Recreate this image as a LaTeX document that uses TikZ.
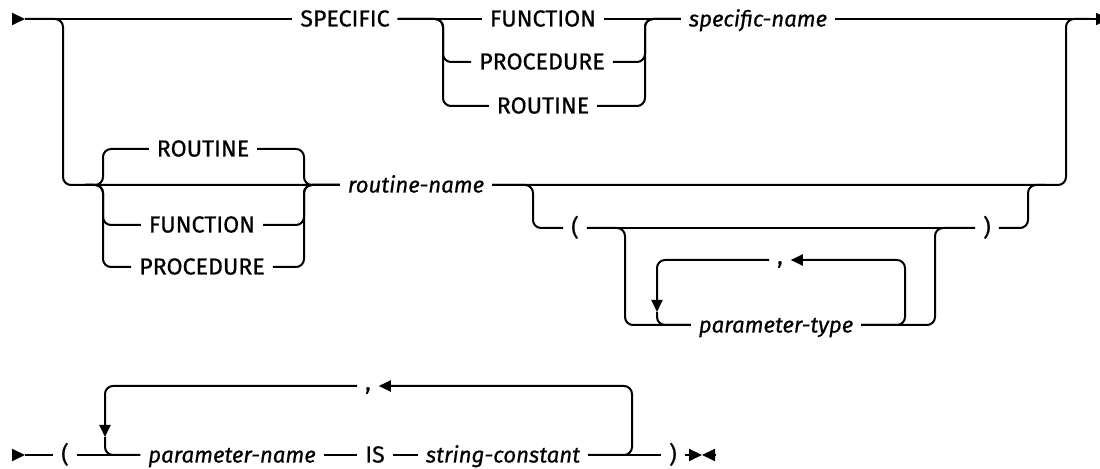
\documentclass[tikz,border=0pt]{standalone}
\usepackage{fontspec}
\setmainfont{Fira Sans}[FakeBold=0.6]
\usetikzlibrary{arrows.meta}
\newcommand\dgfont{\fontsize{11.6}{14}\selectfont}
\tikzset{
  >={Triangle[length=6pt,width=5.5pt]},
  stt/.style={-{Triangle[length=6.5pt,width=6pt]}},
  kw/.style={inner sep=0pt,outer sep=4pt,text height=7.5pt,text depth=0pt,font=\dgfont},
  vr/.style={kw,font=\fontsize{11.1}{14}\selectfont\itshape},
  cma/.style={kw,text height=4pt},
  rr/.style={rounded corners=4pt},
  every picture/.style={line width=1pt},
}

\begin{document}
\begin{tikzpicture}[x=0.5pt,y=-0.5pt]
\useasboundingbox (0,0) rectangle (1100,469);
% upper diagram
\coordinate (st1) at (12,19); \coordinate (st1t) at (25,19);
\coordinate (ja) at (63,19); \coordinate (jb) at (63,185);
\coordinate (g0) at (85,185); \coordinate (ga) at (103,185); \coordinate (gb) at (304,185);
\coordinate (ha) at (443,19); \coordinate (hb) at (645,19);
\coordinate (la) at (533,185); \coordinate (lb) at (1028,185); \coordinate (kc) at (1045,185);
\coordinate (ka) at (1066,185); \coordinate (kb) at (1066,19); \coordinate (kd) at (1090,19);
\coordinate (en1) at (1109,19);
\coordinate (gl) at (625,228); \coordinate (gr) at (935,228);
\coordinate (ll) at (657,312); \coordinate (lr) at (905,260);
\node[kw] (spec) at (345,19) {SPECIFIC};
\node[kw] (fn1) at (543,19) {FUNCTION};
\node[kw] (pr1) at (542,62) {PROCEDURE};
\node[kw] (rt1) at (543,106) {ROUTINE};
\node[vr] (sn) at (758,19) {specific-name};
\node[kw] (rt2) at (203,149) {ROUTINE};
\node[kw] (fn2) at (202,225) {FUNCTION};
\node[kw] (pr2) at (202,267) {PROCEDURE};
\node[vr] (rn) at (416,185) {routine-name};
\node[kw] (lp) at (575,228) {(};
\node[kw] (rp) at (987,228) {)};
\node[cma] (cm) at (780,260) {,};
\node[vr] (pt) at (776,325) {parameter-type};
\draw[stt] (st1) -- (st1t);
\draw (st1t) -- (spec) -- (fn1) -- (sn);
\draw[stt] (sn) -- (en1);
\draw[rr] (spec) -- (ha) |- (pr1); \draw[rr] (spec) -- (ha) |- (rt1);
\draw[rr] (pr1) -| (hb) -- (sn); \draw[rr] (rt1) -| (hb) -- (sn);
\draw[rr] (st1t) -- (ja) -- (jb) -- (rn);
\draw[rr] (g0) -- (ga) |- (rt2); \draw[rr] (g0) -- (ga) |- (fn2); \draw[rr] (g0) -- (ga) |- (pr2);
\draw[rr] (rt2) -| (gb) -- (rn); \draw[rr] (fn2) -| (gb) -- (rn); \draw[rr] (pr2) -| (gb) -- (rn);
\draw[rr] (rn) -- (ka) -- (kb) -- (kd);
\draw[rr] (rn) -- (la) |- (lp);
\draw (lp) -- (rp);
\draw[rr] (rp) -| (lb) -- (kc);
\draw[rr] (lp) -- (gl) |- (pt); \draw[rr] (pt) -| (gr) -- (rp);
\draw[rr,->] (cm) -| (ll); \draw[rr] (ll) |- (pt);
\draw[rr,->] (pt) -| (lr) -- (cm);
% lower diagram
\coordinate (st2) at (12,455); \coordinate (st2t) at (25,455);
\coordinate (bl) at (105,437); \coordinate (br) at (632,386);
\coordinate (en2) at (702,455); \coordinate (en3) at (716,455);
\node[kw] (lp2) at (65,455) {(};
\node[vr] (pn) at (232,455) {parameter-name};
\node[kw] (is) at (375,455) {IS};
\node[vr] (sc) at (503,455) {string-constant};
\node[kw] (rp2) at (673,455) {)};
\node[cma] (cm2) at (368,386) {,};
\draw[stt] (st2) -- (st2t);
\draw (st2t) -- (lp2) -- (pn) -- (is) -- (sc) -- (rp2);
\draw[stt] (rp2) -- (en2); \draw[stt] (en3) -- (en2);
\draw[rr,->] (cm2) -| (bl); \draw[rr] (bl) |- (pn);
\draw[rr,->] (sc) -| (br) -- (cm2);
\end{tikzpicture}
\end{document}
